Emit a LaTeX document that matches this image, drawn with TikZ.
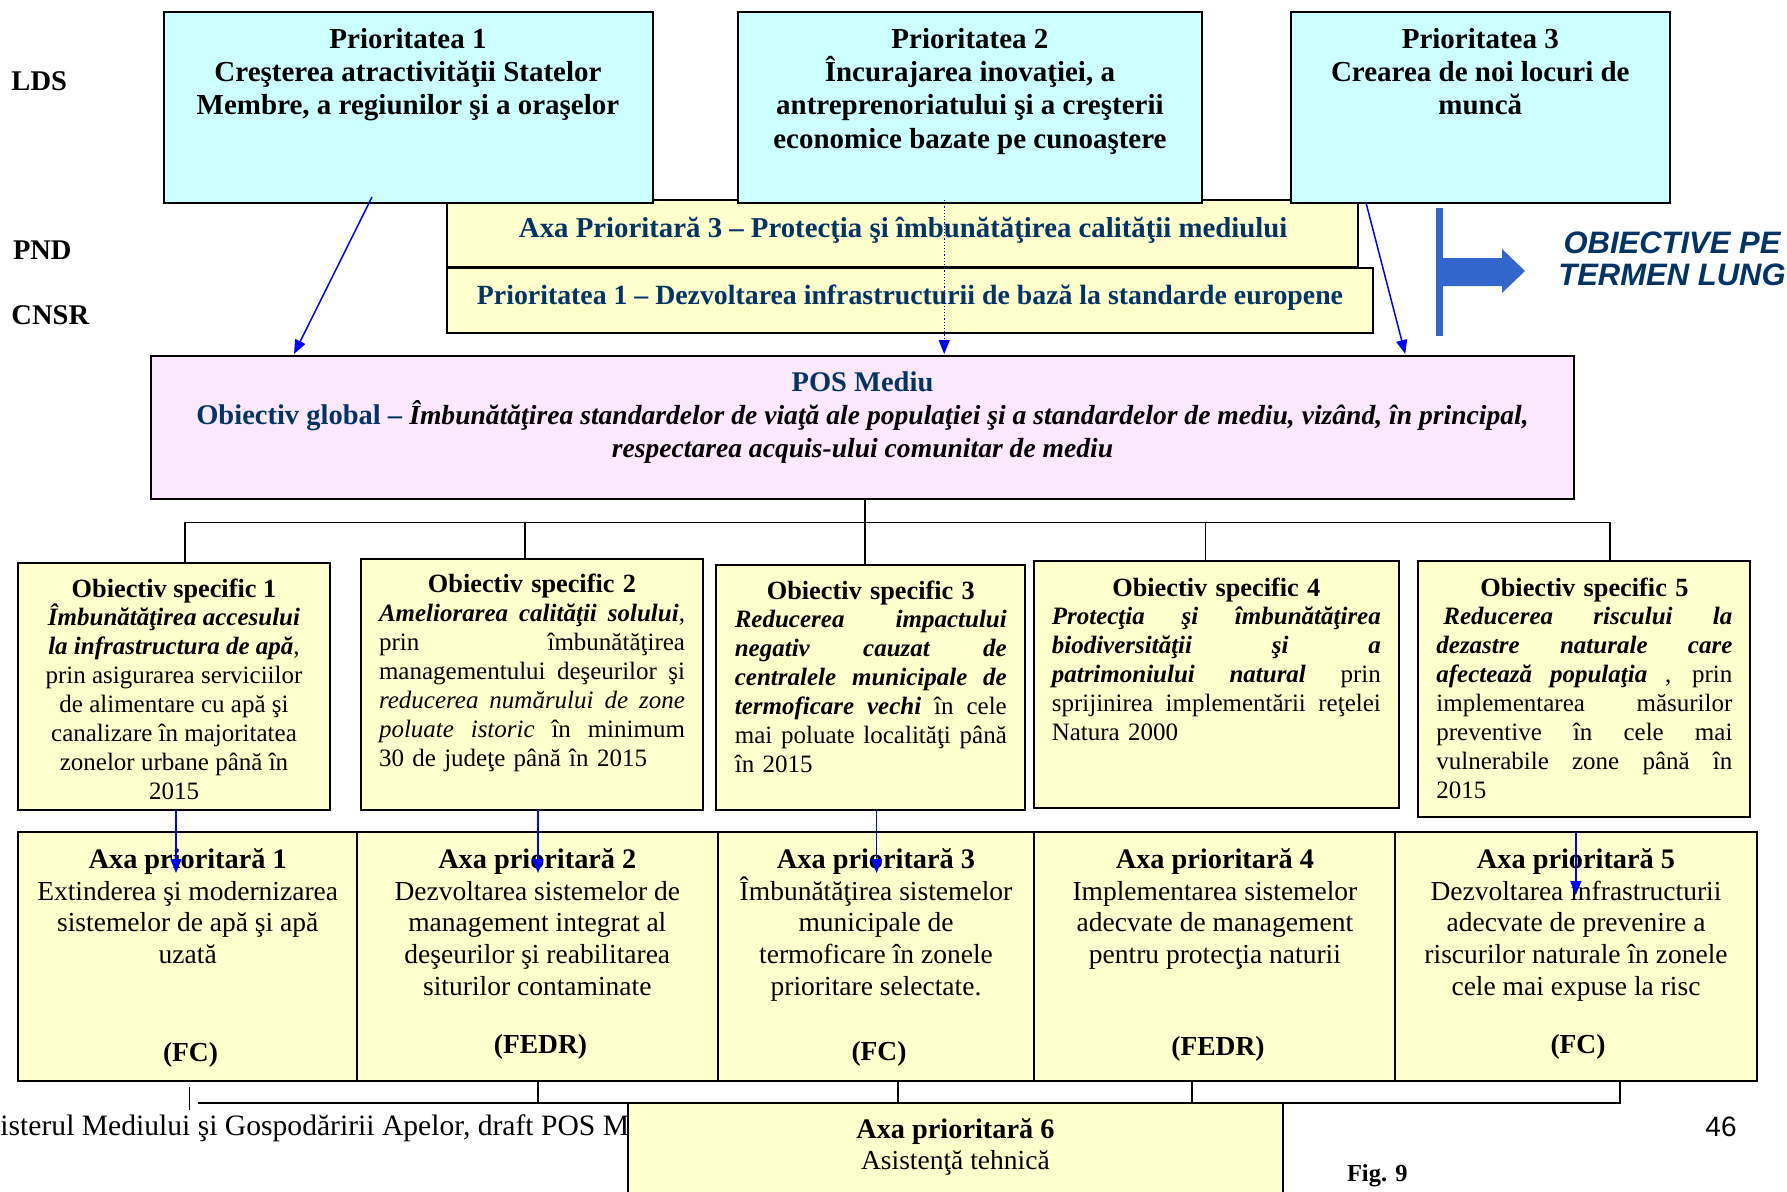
\documentclass[tikz,border=0pt]{standalone}
\usepackage{fontspec}
\setmainfont{Liberation Serif}
\newfontfamily\sansf{Liberation Sans}
\usetikzlibrary{arrows.meta}
\definecolor{cyanbox}{RGB}{204,255,255}
\definecolor{yelbox}{RGB}{255,255,204}
\definecolor{pinkbox}{RGB}{252,232,252}
\definecolor{navy}{RGB}{0,51,102}
\definecolor{bigblue}{RGB}{51,102,204}
\newcommand\fTop{\fontsize{29}{33.3}\selectfont\lineskiplimit=-1000pt\relax}
\newcommand\fLab{\fontsize{28.5}{33.3}\selectfont\lineskiplimit=-1000pt\relax}
\newcommand\fPos{\fontsize{28.5}{32.7}\selectfont\lineskiplimit=-1000pt\relax}
\newcommand\fPi{\fontsize{27.6}{32.7}\selectfont}
\newcommand\fOs{\fontsize{25}{28.9}\selectfont\lineskiplimit=-1000pt\relax}
\newcommand\fAx{\fontsize{27.5}{31.7}\selectfont\lineskiplimit=-1000pt\relax}
\newcommand\bi[1]{\textbf{\textit{#1}}}
\newcommand\ost[1]{{\fontsize{26.3}{28.9}\selectfont\bfseries #1}}
\newcommand\axt[1]{{\fontsize{28.3}{31.7}\selectfont\bfseries #1}}
\newcommand\jl[2]{\leavevmode\hbox to #1{\spaceskip=\fontdimen2\font plus 1fil\relax #2}}
\newcommand\cl[2]{\leavevmode\hbox to #1{\hss #2\hss}}
\begin{document}
\begin{tikzpicture}[x=1pt,y=-1pt,
  bx/.style n args={4}{anchor=north west, at={(#1,#2)}, minimum width={(#3-#1)*1pt}, minimum height={(#4-#2)*1pt}, inner sep=0pt, outer sep=0pt, line width=2pt, draw=black},
  cbox/.style={fill=cyanbox},
  ybox/.style={fill=yelbox},
  pbox/.style={fill=pinkbox},
  txt/.style={inner sep=0pt, outer sep=0pt},
  conn/.style={draw=black, line width=1.6pt},
  barr/.style={draw=blue, line width=1.5pt, -{Triangle[length=14pt,width=11pt]}},
  darr/.style={draw=blue, line width=1.2pt, dash pattern=on 1.2pt off 2pt, -{Triangle[length=14pt,width=11pt]}},
]
\useasboundingbox (0,0) rectangle (1787,1191);
\clip (0,0) rectangle (1787,1191);

% side labels
\node[txt, anchor=base west, font=\fLab\bfseries] (lds) at (11.5,90) {LDS};
\node[txt, anchor=base west, font=\fLab\bfseries] (pnd) at (13,259.3) {PND};
\node[txt, anchor=base west, font=\fLab\bfseries] (cnsr) at (11.5,324) {CNSR};

% yellow bars
\node[bx={447}{200}{1358.3}{267}, ybox] (bar1) {};
\node[bx={447}{268}{1372.8}{333}, ybox] (bar2) {};
\node[txt, anchor=base, font=\fontsize{28.8}{33}\selectfont\bfseries, text=navy] (bar1t) at (903.2,237.3) {Axa Prioritară 3 – Protecţia şi îmbunătăţirea calităţii mediului};
\node[txt, anchor=base, font=\fontsize{27.8}{33}\selectfont\bfseries, text=navy] (bar2t) at (910,304) {Prioritatea 1 – Dezvoltarea infrastructurii de bază la standarde europene};

% top boxes
\node[bx={163.6}{11.7}{652.7}{202.7}, cbox] (p1) {};
\node[bx={737.6}{11.7}{1202.2}{202.7}, cbox] (p2) {};
\node[bx={1290.6}{11.7}{1670}{202.7}, cbox] (p3) {};
\node[txt, anchor=north, align=center, font=\fTop\bfseries] (p1t) at (408,25) {\strut Prioritatea 1\\Creşterea atractivităţii Statelor\\Membre, a regiunilor şi a oraşelor};
\node[txt, anchor=north, align=center, font=\fTop\bfseries] (p2t) at (969.9,25) {\strut Prioritatea 2\\Încurajarea inovaţiei, a\\antreprenoriatului şi a creşterii\\economice bazate pe cunoaştere};
\node[txt, anchor=north, align=center, font=\fTop\bfseries] (p3t) at (1480.3,25) {\strut Prioritatea 3\\Crearea de noi locuri de\\muncă};

% long-term objectives
\fill[bigblue] (1435.7,208) rectangle (1443,336);
\fill[bigblue] (1442,258) -- (1502,258) -- (1502,249) -- (1525,271) -- (1502,293) -- (1502,286) -- (1442,286) -- cycle;
\node[txt, anchor=north, align=center, font=\sansf\fontsize{31}{32}\selectfont\bfseries\itshape, text=navy] (olt) at (1672,230.6) {\strut OBIECTIVE PE\\TERMEN LUNG};

% POS Mediu
\node[bx={151}{355.6}{1574}{499}, pbox] (pos) {};
\node[txt, anchor=north, align=center, font=\fPos\bfseries] (post) at (862.5,368.8) {\strut\textcolor{navy}{POS Mediu}\\\textcolor{navy}{Obiectiv global –} {\fPi\itshape Îmbunătăţirea standardelor de viaţă ale populaţiei şi a standardelor de mediu, vizând, în principal,}\\{\fPi\itshape respectarea acquis-ului comunitar de mediu}};

% arrows top -> POS
\coordinate (a1s) at (372,197); \coordinate (a1e) at (294,354);
\coordinate (a2s) at (944.2,200); \coordinate (a2e) at (944.2,354);
\coordinate (a3s) at (1365.8,202); \coordinate (a3e) at (1405.2,354);
\draw[barr] (a1s) -- (a1e);
\draw[darr] (a2s) -- (a2e);
\draw[barr] (a3s) -- (a3e);

% specific objectives
\node[bx={18.4}{562.7}{330}{810}, ybox] (os1) {};
\node[bx={361}{559}{703}{810}, ybox] (os2) {};
\node[bx={716}{565}{1024.6}{810}, ybox] (os3) {};
\node[bx={1034.4}{561}{1398.8}{808}, ybox] (os4) {};
\node[bx={1417.9}{561}{1750.4}{816.7}, ybox] (os5) {};

\node[txt, anchor=north, align=center, font=\fOs] (os1t) at (174,576.8) {\strut\ost{Obiectiv specific 1}\\\bi{Îmbunătăţirea accesului}\\\bi{la infrastructura de apă},\\prin asigurarea serviciilor\\de alimentare cu apă şi\\canalizare în majoritatea\\zonelor urbane până în\\2015};

\node[txt, anchor=north west, text width=306pt, align=left, font=\fOs] (os2t) at (379,572.5) {\noindent\strut\cl{306pt}{\ost{Obiectiv specific 2}}\\
\jl{306pt}{\bi{Ameliorarea calităţii solului},}\\
\jl{306pt}{prin îmbunătăţirea}\\
\jl{306pt}{managementului deşeurilor şi}\\
\jl{306pt}{\textit{reducerea numărului de zone}}\\
\jl{306pt}{\textit{poluate istoric} în minimum}\\
30 de judeţe până în 2015};

\node[txt, anchor=north west, text width=272pt, align=left, font=\fOs] (os3t) at (734.8,578.8) {\noindent\strut\cl{272pt}{\ost{Obiectiv specific 3}}\\
\jl{272pt}{\bi{Reducerea impactului}}\\
\jl{272pt}{\bi{negativ cauzat de}}\\
\jl{272pt}{\bi{centralele municipale de}}\\
\jl{272pt}{\bi{termoficare vechi} în cele}\\
\jl{272pt}{mai poluate localităţi până}\\
în 2015};

\node[txt, anchor=north west, text width=329pt, align=left, font=\fOs] (os4t) at (1051.8,575.8) {\noindent\strut\cl{329pt}{\ost{Obiectiv specific 4}}\\
\jl{329pt}{\bi{Protecţia şi îmbunătăţirea}}\\
\jl{329pt}{\bi{biodiversităţii şi a}}\\
\jl{329pt}{\bi{patrimoniului natural} prin}\\
\jl{329pt}{sprijinirea implementării reţelei}\\
Natura 2000};

\node[txt, anchor=north west, text width=296pt, align=left, font=\fOs] (os5t) at (1436.4,575.8) {\noindent\strut\cl{296pt}{\ost{Obiectiv specific 5}}\\
\hspace*{7pt}\jl{289pt}{\bi{Reducerea riscului la}}\\
\jl{296pt}{\bi{dezastre naturale care}}\\
\jl{296pt}{\bi{afectează populaţia} , prin}\\
\jl{296pt}{implementarea măsurilor}\\
\jl{296pt}{preventive în cele mai}\\
\jl{296pt}{vulnerabile zone până în}\\
2015};

% tree POS -> OS
\coordinate (hb) at (0,522.5);
\coordinate (d1) at (184.8,0); \coordinate (d2) at (524.7,0); \coordinate (d3) at (865,0);
\coordinate (d4) at (1205.6,0); \coordinate (d5) at (1610,0);
\draw[conn] (pos.south -| d3) -- (os3.north -| d3);
\draw[conn] (os1.north -| d1) -- (hb -| d1) -- (hb -| d5) -- (os5.north -| d5);
\draw[conn] (hb -| d2) -- (os2.north -| d2);
\draw[conn] (hb -| d4) -- (os4.north -| d4);

% priority axes
\node[bx={18.4}{832.3}{357}{1080.7}, ybox] (ap1) {};
\node[bx={357}{832.3}{717.6}{1080.7}, ybox] (ap2) {};
\node[bx={717.6}{832.3}{1034.4}{1080.7}, ybox] (ap3) {};
\node[bx={1034.4}{832.3}{1395.3}{1080.7}, ybox] (ap4) {};
\node[bx={1395.3}{832.3}{1756.8}{1080.7}, ybox] (ap5) {};

\node[txt, anchor=north, align=center, font=\fAx] (ap1t) at (187.7,846.1) {\strut\axt{Axa prioritară 1}\\Extinderea şi modernizarea\\sistemelor de apă şi apă\\uzată};
\node[txt, anchor=north, align=center, font=\fAx] (ap2t) at (537.3,846.1) {\strut\axt{Axa prioritară 2}\\Dezvoltarea sistemelor de\\management integrat al\\deşeurilor şi reabilitarea\\siturilor contaminate};
\node[txt, anchor=north, align=center, font=\fAx] (ap3t) at (876,846.1) {\strut\axt{Axa prioritară 3}\\Îmbunătăţirea sistemelor\\municipale de\\termoficare în zonele\\prioritare selectate.};
\node[txt, anchor=north, align=center, font=\fAx] (ap4t) at (1214.9,846.1) {\strut\axt{Axa prioritară 4}\\Implementarea sistemelor\\adecvate de management\\pentru protecţia naturii};
\node[txt, anchor=north, align=center, font=\fAx] (ap5t) at (1576,846.1) {\strut\axt{Axa prioritară 5}\\Dezvoltarea infrastructurii\\adecvate de prevenire a\\riscurilor naturale în zonele\\cele mai expuse la risc};

\node[txt, anchor=base, font=\fAx\bfseries] (f1) at (190.5,1061.7) {(FC)};
\node[txt, anchor=base, font=\fAx\bfseries] (f2) at (540.5,1053.3) {(FEDR)};
\node[txt, anchor=base, font=\fAx\bfseries] (f3) at (879,1060) {(FC)};
\node[txt, anchor=base, font=\fAx\bfseries] (f4) at (1218,1055) {(FEDR)};
\node[txt, anchor=base, font=\fAx\bfseries] (f5) at (1578,1053.3) {(FC)};

% OS -> axes arrows
\coordinate (b1) at (176,873); \coordinate (b2) at (538,873);
\coordinate (b3) at (876.6,873); \coordinate (b5) at (1575.8,895);
\draw[barr] (os1.south -| b1) -- (b1);
\draw[barr] (os2.south -| b2) -- (b2);
\draw[barr] (os3.south -| b3) -- (b3);
\draw[barr] (ap5.north -| b5) -- (b5);

% bottom connectors
\coordinate (hb2) at (0,1103);
\coordinate (e1) at (198,0); \coordinate (e2) at (538,0); \coordinate (e3) at (898,0);
\coordinate (e4) at (1192,0); \coordinate (e5) at (1620,0);
\draw[conn] (hb2 -| e1) -- (hb2 -| e5) -- (ap5.south -| e5);
\draw[conn] (ap2.south -| e2) -- (hb2 -| e2);
\draw[conn] (ap3.south -| e3) -- (hb2 -| e3);
\draw[conn] (ap4.south -| e4) -- (hb2 -| e4);
\coordinate (tk1) at (189.4,1087); \coordinate (tk2) at (189.4,1110);
\draw[conn] (tk1) -- (tk2);

% footer
\node[txt, anchor=base west, font=\fontsize{29.6}{34}\selectfont] (foot) at (0.5,1135) {isterul Mediului şi Gospodăririi Apelor, draft POS M};
\node[bx={627.7}{1103}{1283}{1240}, ybox] (ap6) {};
\node[txt, anchor=north, align=center, font=\fAx] (ap6t) at (955.4,1115.8) {\strut\axt{Axa prioritară 6}\\Asistenţă tehnică};
\node[txt, anchor=base, font=\sansf\fontsize{28}{30}\selectfont] (pg) at (1721,1136.7) {46};
\node[txt, anchor=base west, font=\fontsize{24.5}{28}\selectfont\bfseries] (fig) at (1347,1181.7) {Fig. 9};
\end{tikzpicture}
\end{document}
